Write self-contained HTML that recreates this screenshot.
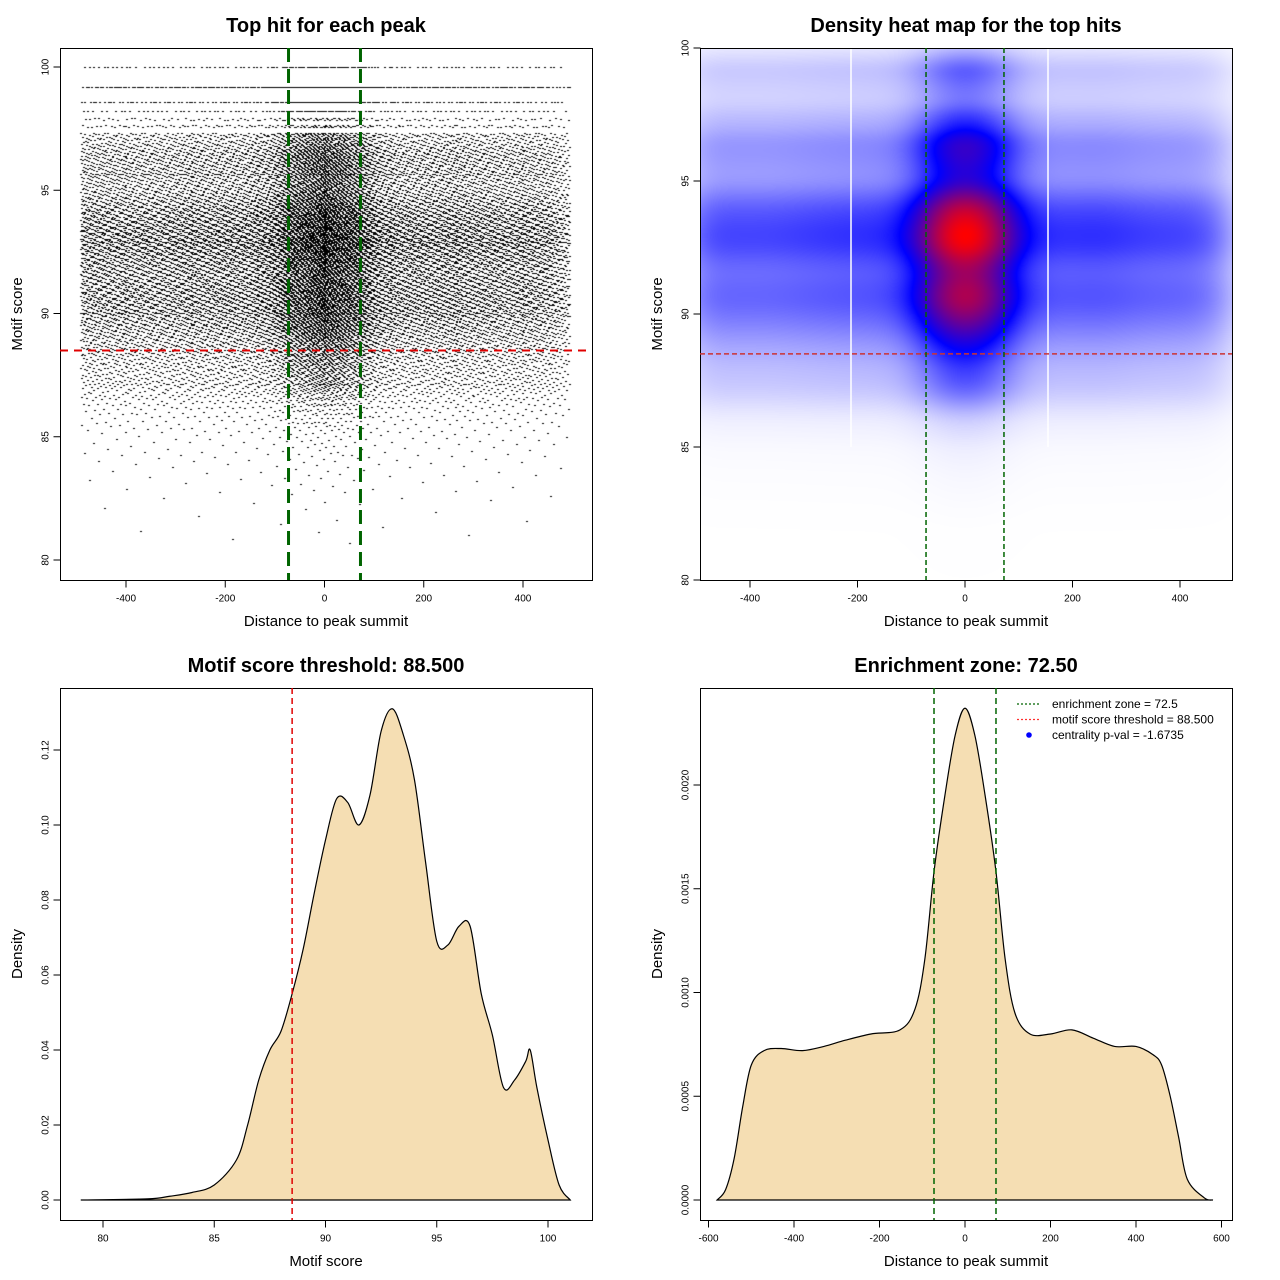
<!DOCTYPE html>
<html><head><meta charset="utf-8"><style>
body{margin:0;background:#fff;width:1280px;height:1280px;position:relative;overflow:hidden;font-family:"Liberation Sans",sans-serif}
canvas{position:absolute}
svg{position:absolute;left:0;top:0}
</style></head><body>
<canvas id="scat" width="532" height="532" style="left:60px;top:48px"></canvas>
<canvas id="heat" width="532" height="532" style="left:700px;top:48px"></canvas>
<svg id="s" width="1280" height="1280"></svg>
<script>
// ---- data ----
const scoreX = [79,82,83,84,85,86,86.5,87,87.5,88,88.5,89,89.5,90,90.5,91,91.5,92,92.5,93,93.5,94,94.5,95,95.5,96,96.5,97,97.5,98,98.5,99,99.2,99.5,100,100.5,101];
const scoreDens = [0,0.0003,0.001,0.002,0.004,0.0107,0.02,0.032,0.04,0.045,0.055,0.067,0.082,0.096,0.107,0.106,0.1,0.108,0.125,0.131,0.124,0.112,0.09,0.069,0.068,0.073,0.073,0.055,0.044,0.03,0.032,0.037,0.04,0.03,0.016,0.004,0];
const distX = [-580,-560,-540,-520,-500,-470,-430,-380,-330,-280,-220,-152,-117,-94,-72,-47,-23,0,23,47,72,94,117,152,200,250,300,350,400,440,460,480,500,520,560,580];
const distDens = [0,0.00005,0.0002,0.00045,0.00065,0.00072,0.00073,0.00072,0.00074,0.00077,0.0008,0.00082,0.00092,0.00116,0.00159,0.00195,0.00224,0.00237,0.00224,0.00195,0.00159,0.00116,0.0009,0.0008,0.0008,0.00082,0.00078,0.00074,0.00074,0.0007,0.00065,0.0005,0.0003,0.0001,0.00001,0];
const threshold = 88.5;
const zone = 72.5;
const ticks1X = [-400,-200,0,200,400];
const ticks1Y = [80,85,90,95,100];
const ticks3X = [80,85,90,95,100];
const ticks3Y = [0,0.02,0.04,0.06,0.08,0.1,0.12];
const ticks3YLab = ["0.00","0.02","0.04","0.06","0.08","0.10","0.12"];
const ticks4X = [-600,-400,-200,0,200,400,600];
const ticks4Y = [0,0.0005,0.001,0.0015,0.002];
const ticks4YLab = ["0.0000","0.0005","0.0010","0.0015","0.0020"];

const svg = document.getElementById('s');
const NS = 'http://www.w3.org/2000/svg';
function el(tag, attrs, parent){const e=document.createElementNS(NS,tag);for(const k in attrs)e.setAttribute(k,attrs[k]);(parent||svg).appendChild(e);return e;}
function lin(d0,d1,r0,r1){return v=>r0+(v-d0)/(d1-d0)*(r1-r0);}
function interp(xs,ys,v){if(v<=xs[0])return ys[0];for(let i=1;i<xs.length;i++){if(v<=xs[i]){const t=(v-xs[i-1])/(xs[i]-xs[i-1]);return ys[i-1]+t*(ys[i]-ys[i-1]);}}return ys[ys.length-1];}

const P1 = {x0:60,y0:48,w:532,h:532, sx:lin(-400,400,126,523), sy:lin(80,100,560,67)};
const P2 = {x0:700,y0:48,w:532,h:532, sx:lin(-400,400,750,1180), sy:lin(80,100,580,48)};
const P3 = {x0:60,y0:688,w:532,h:532, sx:lin(80,100,103,548), sy:lin(0,0.12,1200,750)};
const P4 = {x0:700,y0:688,w:532,h:532, sx:lin(-400,400,794,1136), sy:lin(0,0.002,1200,785)};

function axes(P,tx,txl,ty,tyl,title,xl,yl,name){
  const g=el('g',{});
  
  
  const b=el('rect',{x:P.x0+0.5,y:P.y0+0.5,width:P.w,height:P.h,fill:'none',stroke:'#000','stroke-width':1},g);
  
  const yb=P.y0+P.h+0.5;
  el('line',{x1:P.sx(tx[0]),x2:P.sx(tx[tx.length-1]),y1:yb,y2:yb,stroke:'#000'},g);
  tx.forEach((v,i)=>{const x=P.sx(v);el('line',{x1:x,x2:x,y1:yb,y2:yb+7,stroke:'#000'},g);
    const t=el('text',{x:x,y:yb+21,'font-size':10,'text-anchor':'middle'},g);t.textContent=txl[i];
    });
  const xb=P.x0+0.5;
  el('line',{x1:xb,x2:xb,y1:P.sy(ty[0]),y2:P.sy(ty[ty.length-1]),stroke:'#000'},g);
  ty.forEach((v,i)=>{const y=P.sy(v);el('line',{x1:xb,x2:xb-7,y1:y,y2:y,stroke:'#000'},g);
    const t=el('text',{x:0,y:0,'font-size':10,'text-anchor':'middle',transform:`translate(${xb-12},${y}) rotate(-90)`},g);t.textContent=tyl[i];
    });
  const tt=el('text',{x:P.x0+P.w/2,y:P.y0-16,'font-size':20,'font-weight':'bold','text-anchor':'middle'},g);tt.textContent=title;
  
  const xt=el('text',{x:P.x0+P.w/2,y:P.y0+P.h+46,'font-size':15,'text-anchor':'middle'},g);xt.textContent=xl;
  
  const yt=el('text',{x:0,y:0,'font-size':15,'text-anchor':'middle',transform:`translate(${P.x0-38},${P.y0+P.h/2}) rotate(-90)`},g);yt.textContent=yl;
  
}
function clipLine(P,x1,y1,x2,y2,color,w,dash,name){
  const l=el('line',{x1,y1,x2,y2,stroke:color,'stroke-width':w,'stroke-dasharray':dash});
  
}

// ---- panel 1 scatter ----
(function(){
  const c=document.getElementById('scat').getContext('2d');
  c.fillStyle='#000';
  const grid=[],cdf=[];let acc=0;
  for(let d=-490;d<=495;d+=1){acc+=interp(distX,distDens,d);grid.push(d);cdf.push(acc);}
  function inv(u){u*=acc;let lo=0,hi=cdf.length-1;while(lo<hi){const m=(lo+hi)>>1;if(cdf[m]<u)lo=m+1;else hi=m;}return grid[lo];}
  const N=26000;let k=0;
  const levels=[];
  for(let s=80;s<97.2;s+=0.12)levels.push([s,0.12,1]);
  [[97.3,0.15,1],[97.6,0.15,1],[97.9,0.15,1],[98.2,0.15,0],[98.6,0.2,0],[99.2,0.25,0],[100,0.3,0]].forEach(a=>levels.push(a));
  levels.forEach(([s,step,jit])=>{
    const n=Math.round(interp(scoreX,scoreDens,s)*step*N);
    const y=Math.round(P1.sy(s)-P1.y0);
    for(let i=0;i<n;i++){k++;const u=((k*0.6180339887)%1);const d=inv(u);
      const dy=jit?Math.floor(((k*0.7548776662)%1)*3)-1:0;
      c.fillRect(Math.round(P1.sx(d)-P1.x0-1),y+dy,2,1);}
  });
})();
axes(P1,ticks1X,ticks1X.map(String),ticks1Y,ticks1Y.map(String),'Top hit for each peak','Distance to peak summit','Motif score','scatter');
clipLine(P1,P1.x0,P1.sy(threshold),P1.x0+P1.w,P1.sy(threshold),'#e00000',2,'8,6','threshold-line');
[-zone,zone].forEach(z=>clipLine(P1,P1.sx(z),P1.y0,P1.sx(z),P1.y0+P1.h,'#006400',3,'14,7','enrichment-zone-line'));

// ---- panel 2 heatmap ----
(function(){
  const cv=document.getElementById('heat'),c=cv.getContext('2d');
  const img=c.createImageData(532,532);
  const ix=lin(750,1180,-400,400),iy=lin(580,48,80,100);
  const colx=[],rowy=[];
  for(let i=0;i<532;i++){const d=ix(i+700);let s=0,w=0;for(let k=-60;k<=60;k+=10){const g=Math.exp(-k*k/1800);s+=g*interp(distX,distDens,d+k);w+=g;}colx.push(s/w);}
  for(let j=0;j<532;j++){const v=iy(j+48);let s=0,w=0;for(let k=-0.4;k<=0.4;k+=0.1){const g=Math.exp(-k*k/0.1);s+=g*interp(scoreX,scoreDens,v+k);w+=g;}rowy.push(s/w);}
  let mx=0;for(const a of colx)for(const b of rowy)mx=Math.max(mx,a*b);
  for(let j=0;j<532;j++)for(let i=0;i<532;i++){
    let t=Math.pow(colx[i]*rowy[j]/mx,1.0);let r,g,b;
    if(t<0.45){const u=t/0.45;r=255*(1-u);g=255*(1-u);b=255;}else{const u=(t-0.45)/0.55;r=255*u;g=0;b=255*(1-u);}
    const p=(j*532+i)*4;img.data[p]=r;img.data[p+1]=g;img.data[p+2]=b;img.data[p+3]=255;}
  c.putImageData(img,0,0);
})();
[851,1048].forEach(x=>clipLine(P2,x,P2.y0,x,P2.sy(85),'#fff',1.5,'none','heatmap-grid-line'));
axes(P2,ticks1X,ticks1X.map(String),ticks1Y,ticks1Y.map(String),'Density heat map for the top hits','Distance to peak summit','Motif score','heatmap');
clipLine(P2,P2.x0,P2.sy(threshold),P2.x0+P2.w,P2.sy(threshold),'#cc3333',1.5,'5,3','threshold-line');
[-zone,zone].forEach(z=>clipLine(P2,P2.sx(z),P2.y0,P2.sx(z),P2.y0+P2.h,'#006400',1.5,'5,3','enrichment-zone-line'));

// ---- density curves ----
function smoothPath(pts){let d=`M${pts[0][0]},${pts[0][1]}`;
  for(let i=0;i<pts.length-1;i++){const p0=pts[i-1]||pts[i],p1=pts[i],p2=pts[i+1],p3=pts[i+2]||p2;
    d+=` C${p1[0]+(p2[0]-p0[0])/6},${p1[1]+(p2[1]-p0[1])/6} ${p2[0]-(p3[0]-p1[0])/6},${p2[1]-(p3[1]-p1[1])/6} ${p2[0]},${p2[1]}`;}
  return d;}
function densityPlot(P,xs,ys,name){
  const pts=xs.map((x,i)=>[P.sx(x),P.sy(ys[i])]);
  const p=el('path',{d:smoothPath(pts)+' Z',fill:'#F5DEB3',stroke:'#000','stroke-width':1.2});
  
}
densityPlot(P3,scoreX,scoreDens,'score-density-curve');
axes(P3,ticks3X,ticks3X.map(String),ticks3Y,ticks3YLab,'Motif score threshold: 88.500','Motif score','Density','score-density');
clipLine(P3,P3.sx(threshold),P3.y0,P3.sx(threshold),P3.y0+P3.h,'#e00000',1.5,'6,4','threshold-line');

densityPlot(P4,distX,distDens,'distance-density-curve');
axes(P4,ticks4X,ticks4X.map(String),ticks4Y,ticks4YLab,'Enrichment zone: 72.50','Distance to peak summit','Density','distance-density');
[-zone,zone].forEach(z=>clipLine(P4,P4.sx(z),P4.y0,P4.sx(z),P4.y0+P4.h,'#006400',1.5,'6,4','enrichment-zone-line'));

const lg=el('g',{});

const legItems=['enrichment zone = 72.5','motif score threshold = 88.500','centrality p-val = -1.6735'];
const legColors=['#006400','#ff3030','#0000ff'];
legItems.forEach((t,i)=>{const y=704+i*15.5;
  if(i<2){el('line',{x1:1017,x2:1041,y1:y,y2:y,stroke:legColors[i],'stroke-width':1.2,'stroke-dasharray':'2,2'},lg);}
  else{el('circle',{cx:1029,cy:y,r:2.8,fill:legColors[i]},lg);}
  const tx=el('text',{x:1052,y:y+4,'font-size':12},lg);tx.textContent=t;
  
});
</script>
</body></html>
